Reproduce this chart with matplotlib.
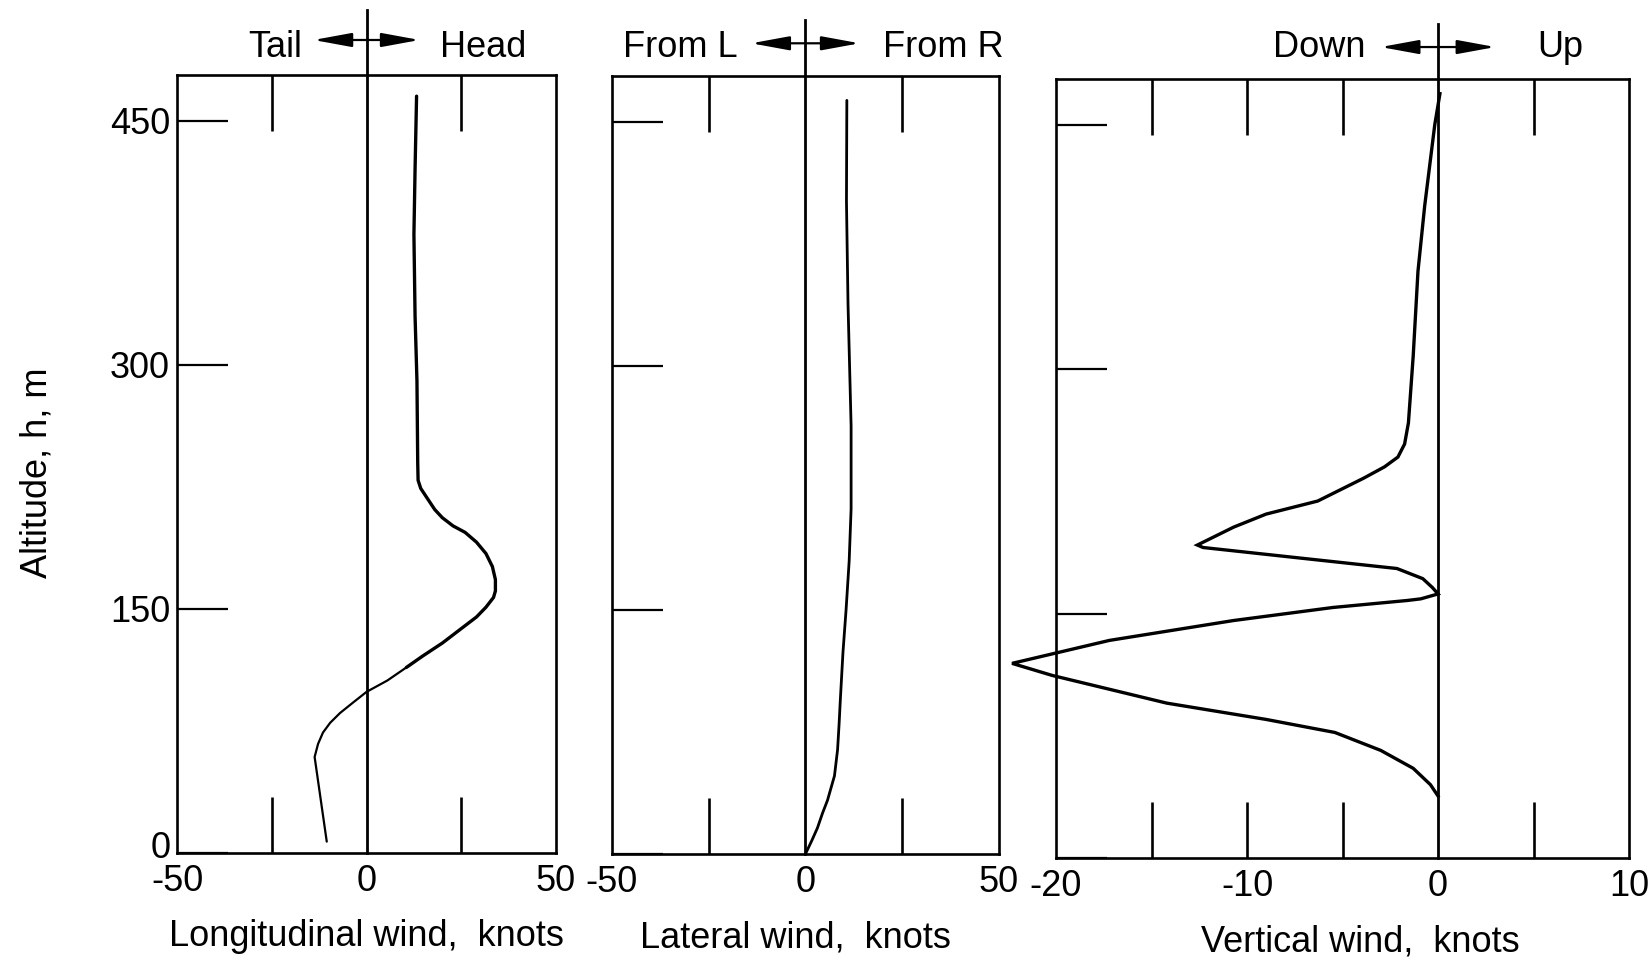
import matplotlib
matplotlib.use('Agg')
from matplotlib import pyplot as plt

plt.rcParams['font.family'] = ['Liberation Sans', 'DejaVu Sans']
plt.rcParams['font.size'] = 26

# longitudinal (head/tail) wind, altitude in m vs knots
lon_alt = [465, 420, 380, 330, 290, 240, 229, 224, 218, 211, 206, 201, 197, 191, 184,
           176, 168, 161, 157, 151, 145, 137, 129, 121, 114]
lon_wind = [13.2, 12.8, 12.5, 12.8, 13.3, 13.5, 13.6, 14.3, 16.0, 18.0, 20.0, 22.8, 26.0, 29.0, 31.5,
            33.2, 34.0, 34.0, 33.5, 31.5, 29.0, 24.5, 20.0, 14.8, 10.5]
lon_alt_low = [114, 106, 99, 92, 86, 80, 74, 67, 59, 7]
lon_wind_low = [10.5, 5.5, 0.0, -3.8, -7.0, -9.6, -11.5, -12.8, -13.7, -10.5]

# lateral wind
lat_alt = [463, 401, 338, 263, 212, 180, 150, 124, 94, 80, 64, 48, 33, 25, 16, 8, 0]
lat_wind = [10.7, 10.6, 11.0, 11.8, 11.8, 11.3, 10.5, 9.7, 9.0, 8.7, 8.3, 7.5, 5.7, 4.4, 3.1, 1.6, 0.0]

# vertical wind
vert_alt = [469, 450, 400, 360, 308, 267, 254, 246, 240, 233, 219, 211, 203, 192, 190.5,
            184, 177.6, 171.4, 166, 162, 159, 158, 153.7, 145.7, 133.5, 119.4, 112,
            95, 85, 77, 66, 55, 45, 38]
vert_wind = [0.1, -0.17, -0.7, -1.05, -1.3, -1.55, -1.75, -2.1, -2.8, -3.9, -6.3, -9.0, -10.7, -12.6, -12.3,
             -7.2, -2.15, -0.8, -0.3, 0.0, -0.9, -1.6, -5.5, -10.7, -17.2, -22.3, -20.2,
             -14.2, -9.0, -5.4, -3.0, -1.3, -0.4, 0.0]

alt_ticks = [0, 150, 300, 450]

fig = plt.figure(figsize=(16.5, 9.69), dpi=100)
ax1 = fig.add_axes([0.1073, 0.1197, 0.2297, 0.8029])
ax2 = fig.add_axes([0.3709, 0.1187, 0.2345, 0.8029])
ax3 = fig.add_axes([0.6400, 0.1146, 0.3473, 0.8039])


def frame(ax, xlim, labels, marks, xlabel, lab_x, left_txt, right_txt, arr, txt_l, txt_r,
          arr_y, txt_dy, top):
    ax.set_xlim(*xlim)
    ax.set_ylim(0, 478)
    for s in ax.spines.values():
        s.set_linewidth(1.9)
    ax.xaxis.remove_overlapping_locs = False
    ax.set_xticks(labels)
    ax.set_xticklabels([str(v) for v in labels])
    ax.set_xticks(marks, minor=True)
    ax.tick_params(axis='x', which='major', length=0, pad=8)
    ax.tick_params(axis='x', which='minor', direction='in', length=40, width=1.9,
                   top=True, bottom=True)
    ax.set_yticks(alt_ticks)
    ax.tick_params(axis='y', direction='in', length=37, width=1.6, pad=5)
    ax.set_xlabel(xlabel)
    ax.xaxis.set_label_coords(lab_x, -0.085)

    # zero line running up through the direction cross
    ax.axvline(0, ymin=0, ymax=top, color='black', lw=2.0, clip_on=False)
    tr = ax.get_xaxis_transform()
    head = dict(arrowstyle='-|>,head_length=1.8,head_width=0.33', color='black',
                lw=1.6, mutation_scale=13, shrinkA=0, shrinkB=0)
    ax.annotate('', xy=(-arr, arr_y), xytext=(0, arr_y), xycoords=tr, textcoords=tr,
                arrowprops=head, annotation_clip=False)
    ax.annotate('', xy=(arr, arr_y), xytext=(0, arr_y), xycoords=tr, textcoords=tr,
                arrowprops=head, annotation_clip=False)
    ax.text(txt_l, arr_y + txt_dy, left_txt, transform=tr, ha='right', va='center')
    ax.text(txt_r, arr_y + txt_dy, right_txt, transform=tr, ha='left', va='center')


frame(ax1, (-50, 50), [-50, 0, 50], [-25, 25], 'Longitudinal wind,  knots', 0.5,
      'Tail', 'Head', 14, -17, 19.5, 1.045, -0.010, 1.083)
frame(ax2, (-50, 50), [-50, 0, 50], [-25, 25], 'Lateral wind,  knots', 0.475,
      'From L', 'From R', 14, -17.5, 20, 1.042, -0.005, 1.072)
frame(ax3, (-20, 10), [-20, -10, 0, 10], [-15, -10, -5, 5], 'Vertical wind,  knots', 0.531,
      'Down', 'Up', 3.0, -3.8, 5.2, 1.041, 0.0, 1.07)

# altitude labels; the 0 sits on the corner, just clear of the -50 below it
ax1.set_yticklabels([''] + [str(v) for v in alt_ticks[1:]])
ax1.text(-0.016, alt_ticks[0] - 3, str(alt_ticks[0]), transform=ax1.get_yaxis_transform(),
         ha='right', va='baseline')
ax2.set_yticklabels([])
ax3.set_yticklabels([])

ax1.plot(lon_wind, lon_alt, color='black', lw=2.4, solid_capstyle='round')
ax1.plot(lon_wind_low, lon_alt_low, color='black', lw=1.6, solid_capstyle='round')
ax2.plot(lat_wind, lat_alt, color='black', lw=2.0, solid_capstyle='round')
ax3.plot(vert_wind, vert_alt, color='black', lw=2.4, clip_on=False, solid_joinstyle='miter')

fig.text(37 / 1650, 1 - 473 / 969, 'Altitude, h, m', rotation=90, ha='center', va='center')

fig.savefig('out.png', dpi=100, facecolor='white')
